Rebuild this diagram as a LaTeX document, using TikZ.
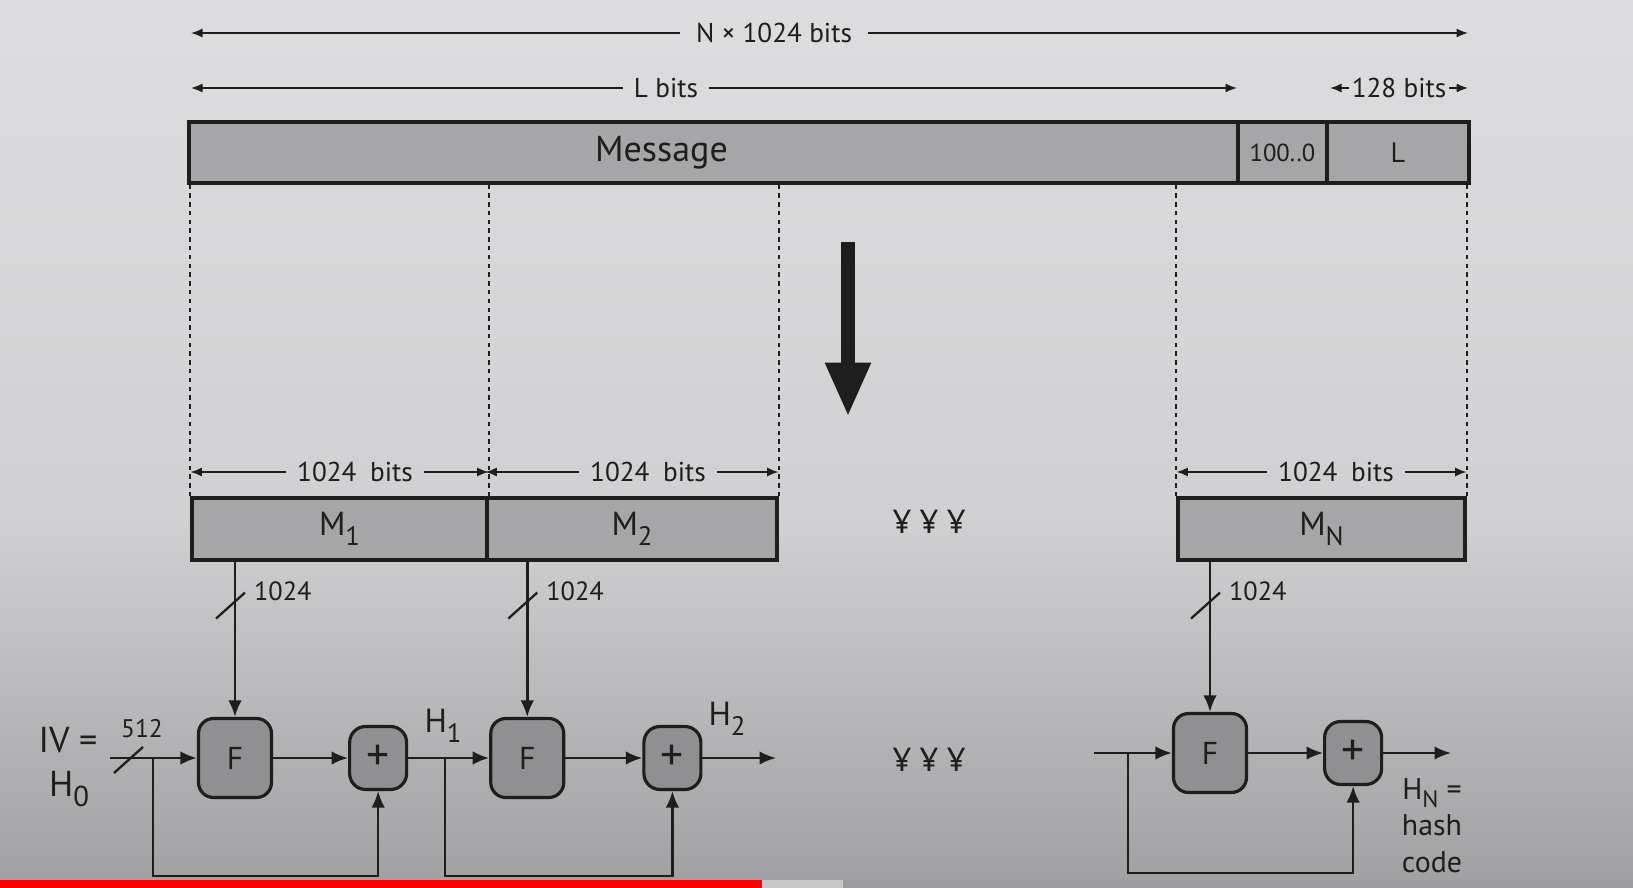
\documentclass[tikz,border=0pt]{standalone}
\usepackage{fontspec}
\setmainfont{PT Sans}
\usepackage{graphicx}
\usetikzlibrary{arrows.meta,positioning,fit,calc}

\definecolor{bgtop}{HTML}{DDDDDF}
\definecolor{bgmid}{HTML}{D0D0D2}
\definecolor{bglow}{HTML}{A0A0A2}
\definecolor{barfill}{HTML}{A6A6A8}
\definecolor{boxfill}{HTML}{909092}
\definecolor{ink}{HTML}{1E1E1E}
\definecolor{ytred}{HTML}{FF0000}
\definecolor{ytbuf}{HTML}{C8C8C8}
\definecolor{ytrest}{HTML}{9C9C9E}

\newcommand{\lowidx}[1]{\raisebox{-0.6ex}{\scalebox{0.8}{#1}}}

\tikzset{
  busmark/.pic={\draw[line width=1.3pt,draw=ink] (-15,13) -- (14,-13);}
}

\begin{document}
\begin{tikzpicture}[
  x=0.02cm, y=-0.02cm,
  font=\fontsize{16}{19}\selectfont,
  segbox/.style={draw=ink,line width=1.8pt,fill=barfill,inner sep=0pt,text=ink},
  seglabel/.style={text=ink,font=\fontsize{19}{22}\selectfont},
  fbox/.style={draw=ink,line width=1.8pt,fill=boxfill,rounded corners=3mm,minimum width=1.46cm,minimum height=1.58cm,text=ink,font=\fontsize{18}{20}\selectfont},
  xorbox/.style={draw=ink,line width=1.8pt,fill=boxfill,rounded corners=3.2mm,minimum width=1.14cm,minimum height=1.26cm,inner sep=0pt,text=ink,font=\fontsize{26}{26}\selectfont},
  dimline/.style={-{Latex[length=2.3mm,width=1.8mm]},line width=0.9pt,draw=ink},
  arrow/.style={-{Latex[length=3.3mm,width=2.7mm]},line width=1.4pt,draw=ink},
  sepline/.style={line width=1.1pt,draw=ink,dash pattern=on 2.5pt off 2.5pt},
  dimlabel/.style={inner ysep=2pt,inner xsep=6pt,text=ink,font=\fontsize{15.5}{18}\selectfont},
  buslabel/.style={text=ink,inner sep=1pt,font=\fontsize{15}{17}\selectfont},
  sigtext/.style={text=ink,inner sep=1pt,font=\fontsize{19}{21}\selectfont,align=center}
]
% background and player bar
\useasboundingbox (0,0) rectangle (1633,888);
\shade[top color=bgtop,bottom color=bgmid] (0,0) rectangle (1633,520);
\shade[top color=bgmid,bottom color=bglow] (0,520) rectangle (1633,888);
\fill[ytred] (0,880) rectangle (762,888);
\fill[ytbuf] (762,880) rectangle (843,888);
\fill[ytrest] (843,880) rectangle (1633,888);

% padded message
\node[segbox,fit={(189,122) (1238,183)},label={[seglabel,font=\fontsize{20.5}{24}\selectfont,xshift=-1.04cm]center:Message}] (msg) {};
\node[segbox,fit={(1238,122) (1327,183)},label={[seglabel,font=\fontsize{14}{16}\selectfont]center:100..0}] (pad) {};
\node[segbox,fit={(1327,122) (1469,183)},label={[seglabel,font=\fontsize{16}{18}\selectfont]center:L}] (len) {};

% lengths on top
\coordinate (nl) at (191,33);
\coordinate (nr) at (1468,33);
\node[dimlabel,inner xsep=9pt] (ntot) at (774,33) {N × 1024 bits};
\draw[dimline] (ntot) -- (nl);
\draw[dimline] (ntot) -- (nr);
\coordinate (ll) at (191,88);
\coordinate (lr) at (1237,88);
\node[dimlabel] (lbits) at (666,88) {L bits};
\draw[dimline] (lbits) -- (ll);
\draw[dimline] (lbits) -- (lr);
\coordinate (kl) at (1330,88);
\coordinate (kr) at (1468,88);
\node[dimlabel,inner xsep=1.5pt] (kbits) at (1399,88) {128 bits};
\draw[dimline] (kbits) -- (kl);
\draw[dimline] (kbits) -- (kr);

% blocks
\node[segbox,fit={(192,498) (487,560)},label={[seglabel]center:M\lowidx{1}}] (m1) {};
\node[segbox,fit={(487,498) (777,560)},label={[seglabel]center:M\lowidx{2}}] (m2) {};
\node[segbox,fit={(1178,498) (1465,560)},label={[seglabel]center:M\lowidx{N}}] (mn) {};
\node[sigtext] (dots1) at (929,522) {¥ ¥ ¥};

\draw[sepline] (m1.north west) -- (m1.north west |- msg.south);
\draw[sepline] (m1.north east) -- (m1.north east |- msg.south);
\draw[sepline] (m2.north east) -- (m2.north east |- msg.south);
\draw[sepline] (mn.north west) -- (mn.north west |- msg.south);
\draw[sepline] (mn.north east) -- (mn.north east |- len.south);

\foreach \blk/\cx in {m1/355,m2/648,mn/1336}{
  \node[dimlabel] (w\blk) at (\cx,472) {1024\enspace bits};
  \draw[dimline] (w\blk) -- (\blk.north west |- w\blk);
  \draw[dimline] (w\blk) -- (\blk.north east |- w\blk);
}

% big arrow
\coordinate (pt) at (848,242);
\coordinate (pb) at (848,417);
\draw[line width=8pt,draw=ink,-{Triangle[length=31pt,width=24pt]}] (pt) -- (pb);

% compression chain
\node[fbox] (f1) at (235,758) {F};
\node[xorbox,right=1.5cm of f1] (x1) {+};
\node[fbox,right=1.62cm of x1] (f2) {F};
\node[xorbox,right=1.54cm of f2] (x2) {+};
\node[fbox] (fn) at (1210,753) {F};
\node[xorbox,right=1.5cm of fn] (xn) {+};
\node[sigtext] (dots2) at (929,760) {¥ ¥ ¥};

\foreach \blk/\fb in {m1/f1,m2/f2,mn/fn}{
  \draw[arrow] (\fb.north |- \blk.south) -- (\fb.north);
  \pic at ($(\fb.north |- \blk.south)+(-4,44)$) {busmark};
  \node[buslabel,anchor=west] (b\blk) at ($(\fb.north |- \blk.south)+(17,30)$) {1024};
}

\node[sigtext,font=\fontsize{20.5}{22}\selectfont] (ivtxt) at (68,740) {IV =};
\node[sigtext,font=\fontsize{20.5}{22}\selectfont] (h0) at (69,789) {H\lowidx{0}};
\coordinate (iv) at (110,758);
\pic at (129,760) {busmark};
\node[buslabel,font=\fontsize{14.5}{16}\selectfont] (w512) at (142,729) {512};
\draw[arrow] (iv) -- (f1);
\draw[arrow] (f1) -- (x1);
\draw[arrow] (x1) -- (f2);
\draw[arrow] (f2) -- (x2);
\coordinate (h2end) at (776,758);
\draw[arrow] (x2) -- (h2end);
\node[sigtext] (h1) at (443,726) {H\lowidx{1}};
\node[sigtext] (h2) at (727,719) {H\lowidx{2}};

\coordinate (bot) at (0,876);
\coordinate (tap0) at (153,758);
\coordinate (tap1) at (445,758);
\draw[arrow] (tap0) -- (tap0 |- bot) -| (x1.south);
\draw[arrow] (tap1) -- (tap1 |- bot) -| (x2.south);

\coordinate (hin) at (1094,753);
\coordinate (tapn) at (1128,753);
\coordinate (botn) at (0,873);
\coordinate (hout) at (1451,753);
\draw[arrow] (hin) -- (fn);
\draw[arrow] (fn) -- (xn);
\draw[arrow] (xn) -- (hout);
\draw[arrow] (tapn) -- (tapn |- botn) -| (xn.south);
\node[sigtext,anchor=north,font=\fontsize{17}{21}\selectfont] (hn) at (1432,776) {H\lowidx{N} =\\hash\\code};
\end{tikzpicture}
\end{document}
